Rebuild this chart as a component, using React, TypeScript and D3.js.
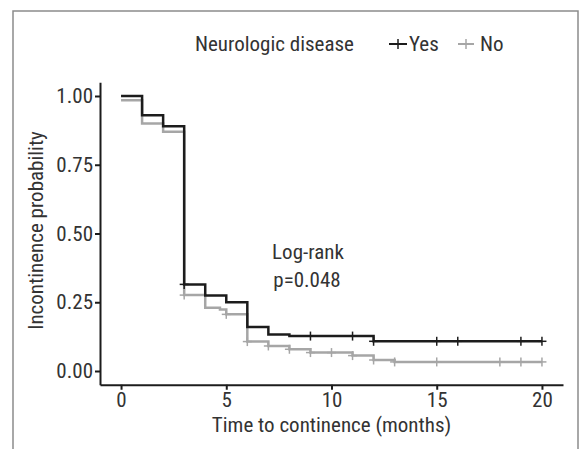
import React from "react";
import * as d3 from "d3";

// Kaplan-Meier curves
const yesTimes = [0, 1, 2, 3, 4, 5, 6, 7, 8, 12, 20];
const yesSurv = [1.0, 0.93, 0.89, 0.315, 0.275, 0.25, 0.16, 0.133, 0.127, 0.108, 0.108];
const yesCensor = [3, 9, 11, 12, 15, 16, 19, 20];

const noTimes = [0, 1, 2, 3, 4, 4.7, 5, 6, 7, 8, 9, 11, 12, 13, 20];
const noSurv = [0.985, 0.9, 0.87, 0.276, 0.23, 0.224, 0.206, 0.107, 0.091, 0.079, 0.067, 0.056, 0.04, 0.033, 0.033];
const noCensor = [3, 5, 6, 7, 8, 9, 10, 11, 12, 13, 15, 18, 19, 20];

const xTicks = [0, 5, 10, 15, 20];
const yTicks = [0, 0.25, 0.5, 0.75, 1];

const WIDTH = 584;
const HEIGHT = 449;
const FONT = "'Liberation Sans Narrow', 'Roboto Condensed', 'DejaVu Sans Condensed', Arial, sans-serif";
const FS = 21;
const BLACK = "#1c1c1c";
const GREY = "#a6a6a6";

const survAt = (times, surv, t) => {
  let v = surv[0];
  times.forEach((tt, i) => {
    if (tt <= t) v = surv[i];
  });
  return v;
};

export default function App() {
  const xRef = React.useRef(null);
  const yRef = React.useRef(null);

  // padded domains like ggplot's expand
  const x = d3.scaleLinear().domain([-1, 21]).range([100, 563]);
  const y = d3.scaleLinear().domain([-0.05, 1.05]).range([384.75, 82.25]);

  const line = d3
    .line()
    .x((d) => x(d[0]))
    .y((d) => y(d[1]))
    .curve(d3.curveStepAfter);

  React.useEffect(() => {
    const xa = d3.select(xRef.current);
    xa.selectAll("*").remove();
    xa.call(d3.axisBottom(x).tickValues(xTicks).tickSize(5).tickSizeOuter(0));
    xa.select(".domain").attr("stroke", BLACK).attr("stroke-width", 2);
    xa.selectAll(".tick line").attr("stroke", BLACK).attr("stroke-width", 2);
    xa.selectAll(".tick text")
      .attr("font-family", FONT)
      .attr("font-size", FS)
      .attr("fill", "#333")
      .attr("dy", "0.71em")
      .attr("y", 7);

    const ya = d3.select(yRef.current);
    ya.selectAll("*").remove();
    ya.call(d3.axisLeft(y).tickValues(yTicks).tickFormat(d3.format(".2f")).tickSize(5).tickSizeOuter(0));
    ya.select(".domain").attr("stroke", BLACK).attr("stroke-width", 2);
    ya.selectAll(".tick line").attr("stroke", BLACK).attr("stroke-width", 2);
    ya.selectAll(".tick text")
      .attr("font-family", FONT)
      .attr("font-size", FS)
      .attr("fill", "#333")
      .attr("x", -7);
  }, []);

  const yesData = yesTimes.map((t, i) => [t, yesSurv[i]]);
  const noData = noTimes.map((t, i) => [t, noSurv[i]]);

  const plus = (t, v, color, key) => (
    <g key={key} stroke={color} strokeWidth={1.5}>
      <line x1={x(t)} x2={x(t)} y1={y(v) - 4.5} y2={y(v) + 4.5} />
      <line x1={x(t) - 4.5} x2={x(t) + 4.5} y1={y(v)} y2={y(v)} />
    </g>
  );

  return (
    <svg
      width={WIDTH}
      height={HEIGHT}
      style={{ position: "absolute", left: 0, top: 0, background: "#fff" }}
    >
      <rect x={0} y={0} width={WIDTH} height={HEIGHT} fill="#fff" />
      {/* panel frame, open at the bottom */}
      <path d="M13,460 V11 H578 V460" fill="none" stroke="#8c8c8c" strokeWidth={1.5} />

      {/* legend */}
      <g fontFamily={FONT} fontSize={FS} fill="#333">
        <text x={195} y={51}>Neurologic disease</text>
        <line x1={389} x2={407} y1={44} y2={44} stroke={BLACK} strokeWidth={2} />
        <line x1={398} x2={398} y1={39} y2={49} stroke={BLACK} strokeWidth={1.5} />
        <text x={409} y={51}>Yes</text>
        <line x1={458} x2={474} y1={44} y2={44} stroke={GREY} strokeWidth={2} />
        <line x1={466} x2={466} y1={39} y2={49} stroke={GREY} strokeWidth={1.5} />
        <text x={480} y={51}>No</text>
      </g>

      <g ref={xRef} transform={`translate(0,${y(-0.05)})`} />
      <g ref={yRef} transform={`translate(${x(-1)},0)`} />

      <path d={line(noData)} fill="none" stroke={GREY} strokeWidth={2.5} />
      {noCensor.map((t, i) => plus(t, survAt(noTimes, noSurv, t), GREY, "n" + i))}
      <path d={line(yesData)} fill="none" stroke={BLACK} strokeWidth={2.5} />
      {yesCensor.map((t, i) => plus(t, survAt(yesTimes, yesSurv, t), BLACK, "y" + i))}

      <g fontFamily={FONT} fontSize={FS} fill="#333" textAnchor="middle">
        <text x={308} y={259}>Log-rank</text>
        <text x={307} y={287}>p=0.048</text>
        <text x={331.5} y={432}>Time to continence (months)</text>
        <text transform={`translate(43,${y(0.5) - 3}) rotate(-90)`}>Incontinence probability</text>
      </g>
    </svg>
  );
}
